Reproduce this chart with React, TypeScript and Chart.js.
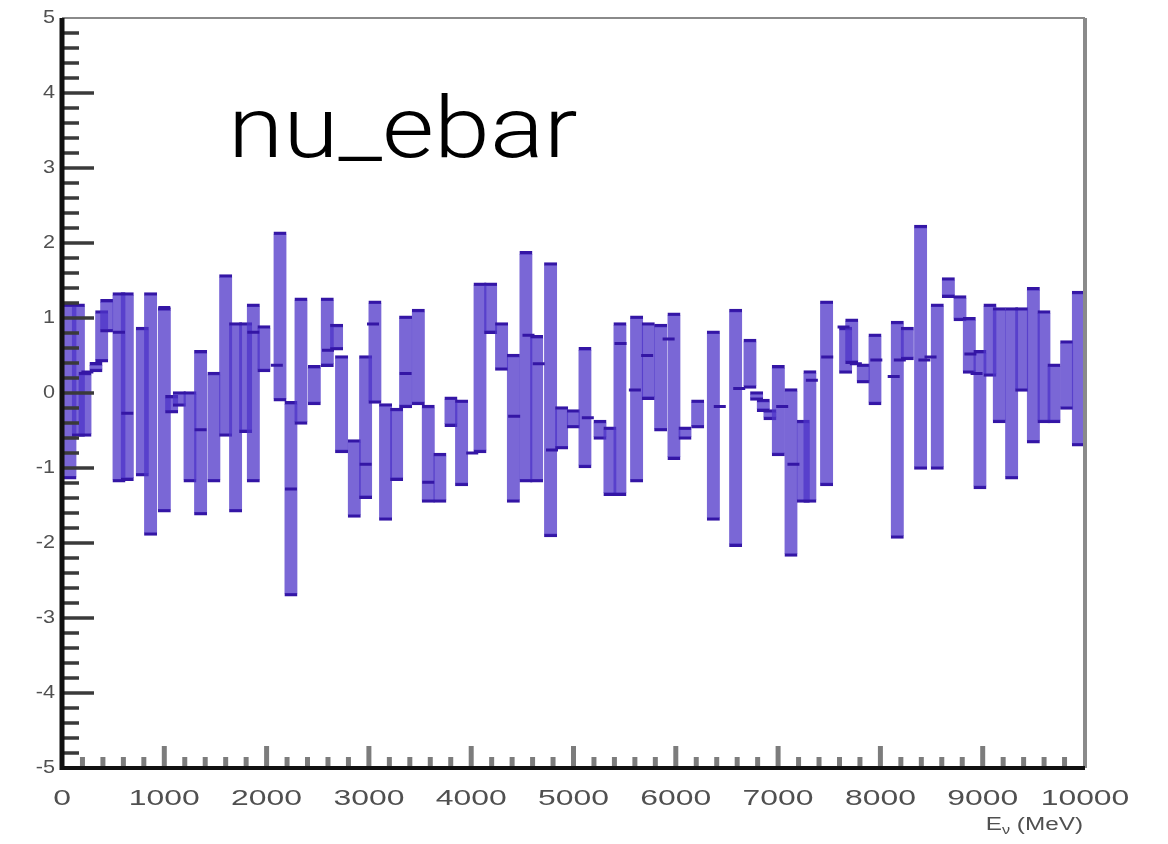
import React, { useEffect, useRef } from "react";
import { Chart, registerables } from "chart.js";

Chart.register(...registerables);

// Energy (MeV) of each vertical band and its lower / upper value
const barEnergy = [
  78, 160, 225, 332, 388, 437, 557, 638, 785, 866, 1000, 1072, 1147, 1251, 1355, 1485, 1600, 1697, 1795, 1870, 1974,
  2131, 2238, 2336, 2466, 2593, 2684, 2733, 2857, 2968, 3059, 3163, 3271, 3359, 3483, 3580, 3694, 3802, 3906,
  4086, 4190, 4297, 4412, 4535, 4640, 4776, 4884, 4998, 5112, 5259, 5356, 5454, 5617, 5731, 5852, 5982,
  6090, 6214, 6367, 6585, 6725, 6790, 6855, 6920, 7002, 7126, 7246, 7311, 7474, 7660, 7720, 7832, 7947,
  8165, 8263, 8393, 8556, 8664, 8778, 8869, 8973, 9071, 9162, 9283, 9381, 9495, 9599, 9697, 9821, 9935,
];
const barLow = [
  -1.15, -0.58, -0.58, 0.28, 0.41, 0.81, -1.19, -1.17, -1.11, -1.9, -1.59, -0.27, -0.18, -1.19, -1.63, -1.19, -0.58, -1.59, -0.53, -1.19, 0.28,
  -0.11, -2.71, -0.42, -0.16, 0.35, 0.57, -0.8, -1.66, -1.41, -0.14, -1.7, -1.17, -0.2, -0.16, -1.46, -1.46, -0.45, -1.24,
  -0.8, 0.79, 0.3, -1.46, -1.19, -1.19, -1.92, -0.75, -0.47, -1.0, -0.62, -1.37, -1.37, -1.19, -0.09, -0.51, -0.89,
  -0.62, -0.47, -1.7, -2.05, 0.06, -0.1, -0.25, -0.36, -0.84, -2.18, -1.46, -1.46, -1.24, 0.26, 0.39, 0.13, -0.16,
  -1.94, 0.44, -1.02, -1.02, 1.27, 0.96, 0.26, -1.28, 0.22, -0.4, -1.15, 0.02, -0.67, -0.4, -0.4, -0.22, -0.71,
];
const barHigh = [
  1.19, 1.19, 0.28, 0.41, 1.1, 1.25, 1.34, 1.34, 0.88, 1.34, 1.14, -0.03, 0.02, 0.02, 0.57, 0.28, 1.58, 0.94, 0.94, 1.19, 0.9,
  2.15, -0.11, 1.27, 0.37, 1.27, 0.92, 0.5, -0.62, 0.5, 1.23, -0.14, -0.2, 1.03, 1.12, -0.16, -0.8, -0.05, -0.09,
  1.47, 1.47, 0.94, 0.52, 1.89, 0.77, 1.74, -0.18, -0.22, 0.61, -0.36, -0.45, 0.94, 1.03, 0.94, 0.92, 1.07,
  -0.45, -0.09, 0.83, 1.12, 0.72, 0.02, -0.08, -0.22, 0.37, 0.06, -0.36, 0.3, 1.23, 0.88, 0.99, 0.39, 0.79,
  0.96, 0.88, 2.24, 1.19, 1.54, 1.3, 1.01, 0.57, 1.19, 1.14, 1.14, 1.14, 1.41, 1.1, 0.39, 0.7, 1.36,
];

// Dark central markers
const dashEnergy = [
  248, 557, 638, 1000, 1355, 1870, 2100, 2238, 2600, 2968, 3040, 3359, 3580, 4010, 4420, 4560, 4660, 4790, 5140,
  5460, 5600, 5720, 5930, 6430, 6620, 7040, 7150, 7330, 7480, 7640, 7760, 7960, 8130, 8190, 8430, 8490, 8880, 8940,
];
const dashValue = [
  0.28, 0.81, -0.27, 1.14, -0.49, 0.81, 0.37, -1.28, 0.57, -0.95, 0.92, 0.26, -1.19, -0.8, -0.31, 0.77, 0.39, -0.76, -0.33,
  0.66, 0.04, 0.5, 0.72, -0.18, 0.06, -0.18, -0.95, 0.17, 0.48, 0.88, 0.39, 0.44, 0.22, 0.44, 0.44, 0.48, 0.52, 0.26,
];

const xTickValues = [0, 1000, 2000, 3000, 4000, 5000, 6000, 7000, 8000, 9000, 10000];
const yTickValues = [5, 4, 3, 2, 1, 0, -1, -2, -3, -4, -5];
const titleText = "nu_ebar";
const xTitleMain = "E";
const xTitleSub = "\u03bd";
const xTitleUnit = " (MeV)";

function stretchedText(ctx: CanvasRenderingContext2D, text: string, x: number, y: number, sx: number, align: CanvasTextAlign) {
  ctx.save();
  ctx.translate(x, y);
  ctx.scale(sx, 1);
  ctx.textAlign = align;
  ctx.fillText(text, 0, 0);
  ctx.restore();
}

const rootFrame = {
  id: "rootFrame",
  afterDatasetsDraw(chart: any) {
    const ctx: CanvasRenderingContext2D = chart.ctx;
    const { left, right, top, bottom } = chart.chartArea;
    const xs = chart.scales.x;
    const ys = chart.scales.y;
    const line = (x1: number, y1: number, x2: number, y2: number) => {
      ctx.beginPath();
      ctx.moveTo(x1, y1);
      ctx.lineTo(x2, y2);
      ctx.stroke();
    };
    ctx.save();
    ctx.lineCap = "butt";
    // top & right frame
    ctx.strokeStyle = "#8a8a8a";
    ctx.lineWidth = 2;
    line(left, top, right, top);
    ctx.lineWidth = 4;
    line(right, top, right, bottom);

    // x ticks (inward)
    ctx.strokeStyle = "#7c7c7c";
    ctx.lineWidth = 5;
    for (let k = 0; k < xTickValues.length; k++) {
      const v = xTickValues[k];
      const px = xs.getPixelForValue(v);
      if (k > 0 && k < xTickValues.length - 1) line(px, bottom, px, bottom - 22);
      if (k < xTickValues.length - 1) {
        const step = (xTickValues[k + 1] - v) / 5;
        for (let m = 1; m < 5; m++) {
          const mp = xs.getPixelForValue(v + step * m);
          line(mp, bottom, mp, bottom - 11);
        }
      }
    }
    // y ticks (inward)
    ctx.strokeStyle = "#3a3a3a";
    ctx.lineWidth = 3.5;
    for (let k = 0; k < yTickValues.length; k++) {
      const v = yTickValues[k];
      const py = ys.getPixelForValue(v);
      if (k > 0 && k < yTickValues.length - 1) line(left, py, left + 32, py);
      if (k < yTickValues.length - 1) {
        const step = (yTickValues[k + 1] - v) / 5;
        for (let m = 1; m < 5; m++) {
          const mp = ys.getPixelForValue(v + step * m);
          line(left, mp, left + 17, mp);
        }
      }
    }
    // axis lines
    ctx.strokeStyle = "#111";
    ctx.lineWidth = 4;
    line(left - 2, bottom, right, bottom);
    ctx.lineWidth = 5;
    line(left, top, left, bottom + 2);

    // tick labels
    ctx.fillStyle = "#505050";
    ctx.textBaseline = "middle";
    ctx.font = '22px "Liberation Sans", Arial, sans-serif';
    for (const v of xTickValues) {
      stretchedText(ctx, String(v), xs.getPixelForValue(v), bottom + 31, 1.45, "center");
    }
    ctx.font = '18px "Liberation Sans", Arial, sans-serif';
    for (const v of yTickValues) {
      stretchedText(ctx, String(v), left - 7, ys.getPixelForValue(v), 1.2, "right");
    }

    // x-axis title
    ctx.textBaseline = "alphabetic";
    const sx = 1.35;
    const baseY = bottom + 62;
    ctx.font = '18px "Liberation Sans", Arial, sans-serif';
    const wUnit = ctx.measureText(xTitleUnit).width * sx;
    let x = right - 2;
    stretchedText(ctx, xTitleUnit, x - wUnit, baseY, sx, "left");
    x -= wUnit;
    ctx.font = '12px "Liberation Sans", Arial, sans-serif';
    const wSub = ctx.measureText(xTitleSub).width * sx;
    stretchedText(ctx, xTitleSub, x - wSub, baseY + 4, sx, "left");
    x -= wSub;
    ctx.font = '18px "Liberation Sans", Arial, sans-serif';
    const wMain = ctx.measureText(xTitleMain).width * sx;
    stretchedText(ctx, xTitleMain, x - wMain, baseY, sx, "left");

    // big label
    ctx.fillStyle = "#000";
    ctx.font = '300 86px Roboto, "Liberation Sans", sans-serif';
    stretchedText(ctx, titleText, 228, 157, 1.17, "left");
    ctx.restore();
  },
};

export default function App() {
  const ref = useRef<HTMLCanvasElement>(null);
  useEffect(() => {
    const chart = new Chart(ref.current as HTMLCanvasElement, {
      type: "bar",
      data: {
        datasets: [
          {
            type: "bar",
            data: barEnergy.map((x, i) => ({ x, y: [barLow[i], barHigh[i]] })) as any,
            backgroundColor: "rgba(78,52,200,0.75)",
            borderColor: "rgb(52,22,165)",
            borderWidth: { top: 3, bottom: 3, left: 0, right: 0 },
            borderSkipped: false,
            barThickness: 13,
            grouped: false,
            order: 2,
          } as any,
          {
            type: "scatter",
            data: dashEnergy.map((x, i) => ({ x, y: dashValue[i] })),
            pointStyle: "line",
            pointRadius: 6,
            borderColor: "rgb(52,22,165)",
            borderWidth: 3,
            order: 1,
          } as any,
        ],
      },
      options: {
        animation: false,
        responsive: false,
        maintainAspectRatio: false,
        layout: { padding: { left: 62, right: 83, top: 18, bottom: 76 } },
        scales: {
          x: { type: "linear", display: false, offset: false, min: 0, max: 10000 },
          y: { type: "linear", display: false, min: -5, max: 5 },
        },
        plugins: { legend: { display: false }, tooltip: { enabled: false } },
      },
      plugins: [rootFrame],
    });
    return () => chart.destroy();
  }, []);
  return (
    <div style={{ position: "fixed", left: 0, top: 0, width: 1168, height: 844, background: "#fff" }}>
      <canvas ref={ref} width={1168} height={844} style={{ width: 1168, height: 844 }} />
    </div>
  );
}
